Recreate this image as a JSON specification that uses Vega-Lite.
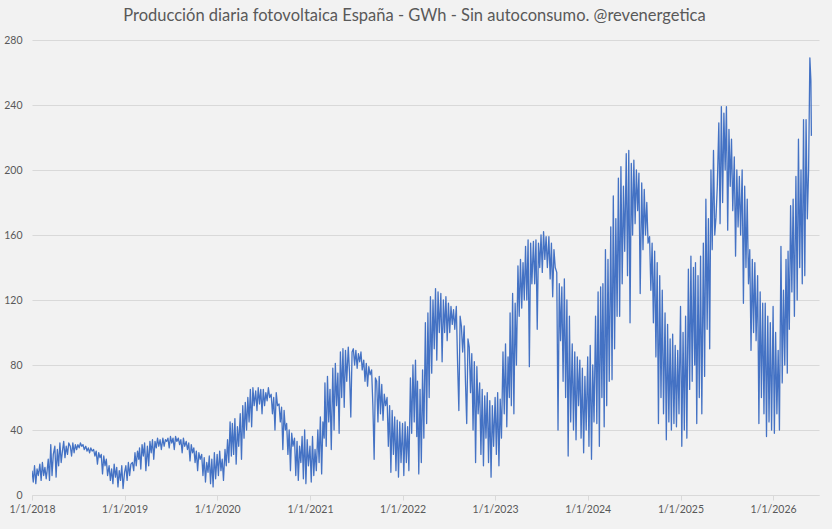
{
  "$schema": "https://vega.github.io/schema/vega-lite/v6.json",
  "width": 787,
  "height": 455,
  "autosize": "none",
  "padding": {"left": 32, "top": 40, "right": 13, "bottom": 34},
  "background": "#f2f2f2",
  "title": {
    "text": "Producción diaria fotovoltaica España - GWh - Sin autoconsumo. @revenergetica",
    "font": "Lato",
    "fontSize": 16.5,
    "fontWeight": "normal",
    "color": "#595959",
    "anchor": "middle",
    "frame": "group",
    "dx": -11,
    "offset": 11
  },
  "config": {
    "view": {"stroke": null},
    "axis": {"labelFont": "Lato", "labelColor": "#595959", "labelFontSize": 10.5, "domain": false, "grid": false}
  },
  "data": {"values": [
{"d":"2018-01-01","v":15},{"d":"2018-01-06","v":8},{"d":"2018-01-11","v":18},{"d":"2018-01-16","v":7},{"d":"2018-01-21","v":16},{"d":"2018-01-26","v":12},
{"d":"2018-02-01","v":19},{"d":"2018-02-06","v":9},{"d":"2018-02-11","v":20},{"d":"2018-02-16","v":12},{"d":"2018-02-21","v":17},{"d":"2018-02-26","v":10},
{"d":"2018-03-01","v":14},{"d":"2018-03-06","v":22},{"d":"2018-03-11","v":9},{"d":"2018-03-16","v":31},{"d":"2018-03-21","v":12},{"d":"2018-03-26","v":25},
{"d":"2018-04-01","v":30},{"d":"2018-04-06","v":11},{"d":"2018-04-11","v":28},{"d":"2018-04-16","v":18},{"d":"2018-04-21","v":32},{"d":"2018-04-26","v":20},
{"d":"2018-05-01","v":27},{"d":"2018-05-06","v":33},{"d":"2018-05-11","v":23},{"d":"2018-05-16","v":30},{"d":"2018-05-21","v":25},{"d":"2018-05-26","v":32},
{"d":"2018-06-01","v":30},{"d":"2018-06-06","v":24},{"d":"2018-06-11","v":32},{"d":"2018-06-16","v":26},{"d":"2018-06-21","v":31},{"d":"2018-06-26","v":28},
{"d":"2018-07-01","v":31},{"d":"2018-07-06","v":29},{"d":"2018-07-11","v":32},{"d":"2018-07-16","v":30},{"d":"2018-07-21","v":31},{"d":"2018-07-26","v":28},
{"d":"2018-08-01","v":30},{"d":"2018-08-06","v":27},{"d":"2018-08-11","v":29},{"d":"2018-08-16","v":26},{"d":"2018-08-21","v":29},{"d":"2018-08-26","v":27},
{"d":"2018-09-01","v":28},{"d":"2018-09-06","v":24},{"d":"2018-09-11","v":27},{"d":"2018-09-16","v":19},{"d":"2018-09-21","v":26},{"d":"2018-09-26","v":23},
{"d":"2018-10-01","v":25},{"d":"2018-10-06","v":13},{"d":"2018-10-11","v":24},{"d":"2018-10-16","v":18},{"d":"2018-10-21","v":22},{"d":"2018-10-26","v":12},
{"d":"2018-11-01","v":18},{"d":"2018-11-06","v":9},{"d":"2018-11-11","v":16},{"d":"2018-11-16","v":7},{"d":"2018-11-21","v":19},{"d":"2018-11-26","v":11},
{"d":"2018-12-01","v":17},{"d":"2018-12-06","v":5},{"d":"2018-12-11","v":15},{"d":"2018-12-16","v":9},{"d":"2018-12-21","v":18},{"d":"2018-12-26","v":4},
{"d":"2019-01-01","v":14},{"d":"2019-01-06","v":18},{"d":"2019-01-11","v":9},{"d":"2019-01-16","v":20},{"d":"2019-01-21","v":12},{"d":"2019-01-26","v":19},
{"d":"2019-02-01","v":20},{"d":"2019-02-06","v":15},{"d":"2019-02-11","v":26},{"d":"2019-02-16","v":18},{"d":"2019-02-21","v":27},{"d":"2019-02-26","v":22},
{"d":"2019-03-01","v":29},{"d":"2019-03-06","v":16},{"d":"2019-03-11","v":31},{"d":"2019-03-16","v":24},{"d":"2019-03-21","v":32},{"d":"2019-03-26","v":15},
{"d":"2019-04-01","v":30},{"d":"2019-04-06","v":18},{"d":"2019-04-11","v":33},{"d":"2019-04-16","v":26},{"d":"2019-04-21","v":34},{"d":"2019-04-26","v":22},
{"d":"2019-05-01","v":33},{"d":"2019-05-06","v":29},{"d":"2019-05-11","v":35},{"d":"2019-05-16","v":30},{"d":"2019-05-21","v":34},{"d":"2019-05-26","v":28},
{"d":"2019-06-01","v":35},{"d":"2019-06-06","v":30},{"d":"2019-06-11","v":34},{"d":"2019-06-16","v":33},{"d":"2019-06-21","v":35},{"d":"2019-06-26","v":29},
{"d":"2019-07-01","v":36},{"d":"2019-07-06","v":32},{"d":"2019-07-11","v":35},{"d":"2019-07-16","v":28},{"d":"2019-07-21","v":36},{"d":"2019-07-26","v":33},
{"d":"2019-08-01","v":35},{"d":"2019-08-06","v":31},{"d":"2019-08-11","v":34},{"d":"2019-08-16","v":26},{"d":"2019-08-21","v":35},{"d":"2019-08-26","v":30},
{"d":"2019-09-01","v":33},{"d":"2019-09-06","v":28},{"d":"2019-09-11","v":32},{"d":"2019-09-16","v":21},{"d":"2019-09-21","v":31},{"d":"2019-09-26","v":26},
{"d":"2019-10-01","v":29},{"d":"2019-10-06","v":20},{"d":"2019-10-11","v":27},{"d":"2019-10-16","v":15},{"d":"2019-10-21","v":26},{"d":"2019-10-26","v":22},
{"d":"2019-11-01","v":25},{"d":"2019-11-06","v":12},{"d":"2019-11-11","v":23},{"d":"2019-11-16","v":8},{"d":"2019-11-21","v":20},{"d":"2019-11-26","v":14},
{"d":"2019-12-01","v":24},{"d":"2019-12-06","v":7},{"d":"2019-12-11","v":22},{"d":"2019-12-16","v":5},{"d":"2019-12-21","v":26},{"d":"2019-12-26","v":10},
{"d":"2020-01-01","v":25},{"d":"2020-01-06","v":12},{"d":"2020-01-11","v":27},{"d":"2020-01-16","v":15},{"d":"2020-01-21","v":22},{"d":"2020-01-26","v":9},
{"d":"2020-02-01","v":28},{"d":"2020-02-06","v":18},{"d":"2020-02-11","v":34},{"d":"2020-02-16","v":20},{"d":"2020-02-21","v":45},{"d":"2020-02-26","v":24},
{"d":"2020-03-01","v":44},{"d":"2020-03-06","v":25},{"d":"2020-03-11","v":47},{"d":"2020-03-16","v":19},{"d":"2020-03-21","v":42},{"d":"2020-03-26","v":30},
{"d":"2020-04-01","v":50},{"d":"2020-04-06","v":22},{"d":"2020-04-11","v":55},{"d":"2020-04-16","v":35},{"d":"2020-04-21","v":57},{"d":"2020-04-26","v":40},
{"d":"2020-05-01","v":60},{"d":"2020-05-06","v":45},{"d":"2020-05-11","v":65},{"d":"2020-05-16","v":42},{"d":"2020-05-21","v":66},{"d":"2020-05-26","v":55},
{"d":"2020-06-01","v":64},{"d":"2020-06-06","v":52},{"d":"2020-06-11","v":66},{"d":"2020-06-16","v":56},{"d":"2020-06-21","v":65},{"d":"2020-06-26","v":50},
{"d":"2020-07-01","v":65},{"d":"2020-07-06","v":55},{"d":"2020-07-11","v":63},{"d":"2020-07-16","v":58},{"d":"2020-07-21","v":66},{"d":"2020-07-26","v":60},
{"d":"2020-08-01","v":62},{"d":"2020-08-06","v":50},{"d":"2020-08-11","v":60},{"d":"2020-08-16","v":40},{"d":"2020-08-21","v":63},{"d":"2020-08-26","v":55},
{"d":"2020-09-01","v":56},{"d":"2020-09-06","v":45},{"d":"2020-09-11","v":54},{"d":"2020-09-16","v":28},{"d":"2020-09-21","v":52},{"d":"2020-09-26","v":40},
{"d":"2020-10-01","v":44},{"d":"2020-10-06","v":25},{"d":"2020-10-11","v":40},{"d":"2020-10-16","v":15},{"d":"2020-10-21","v":38},{"d":"2020-10-26","v":30},
{"d":"2020-11-01","v":35},{"d":"2020-11-06","v":12},{"d":"2020-11-11","v":33},{"d":"2020-11-16","v":9},{"d":"2020-11-21","v":30},{"d":"2020-11-26","v":20},
{"d":"2020-12-01","v":36},{"d":"2020-12-06","v":10},{"d":"2020-12-11","v":40},{"d":"2020-12-16","v":7},{"d":"2020-12-21","v":34},{"d":"2020-12-26","v":18},
{"d":"2021-01-01","v":30},{"d":"2021-01-06","v":8},{"d":"2021-01-11","v":36},{"d":"2021-01-16","v":12},{"d":"2021-01-21","v":28},{"d":"2021-01-26","v":15},
{"d":"2021-02-01","v":40},{"d":"2021-02-06","v":20},{"d":"2021-02-11","v":48},{"d":"2021-02-16","v":13},{"d":"2021-02-21","v":45},{"d":"2021-02-26","v":35},
{"d":"2021-03-01","v":69},{"d":"2021-03-06","v":30},{"d":"2021-03-11","v":73},{"d":"2021-03-16","v":45},{"d":"2021-03-21","v":65},{"d":"2021-03-26","v":28},
{"d":"2021-04-01","v":78},{"d":"2021-04-06","v":40},{"d":"2021-04-11","v":81},{"d":"2021-04-16","v":55},{"d":"2021-04-21","v":75},{"d":"2021-04-26","v":38},
{"d":"2021-05-01","v":88},{"d":"2021-05-06","v":60},{"d":"2021-05-11","v":90},{"d":"2021-05-16","v":54},{"d":"2021-05-21","v":89},{"d":"2021-05-26","v":70},
{"d":"2021-06-01","v":91},{"d":"2021-06-06","v":75},{"d":"2021-06-11","v":48},{"d":"2021-06-16","v":88},{"d":"2021-06-21","v":90},{"d":"2021-06-26","v":80},
{"d":"2021-07-01","v":89},{"d":"2021-07-06","v":78},{"d":"2021-07-11","v":87},{"d":"2021-07-16","v":82},{"d":"2021-07-21","v":88},{"d":"2021-07-26","v":77},
{"d":"2021-08-01","v":83},{"d":"2021-08-06","v":70},{"d":"2021-08-11","v":81},{"d":"2021-08-16","v":67},{"d":"2021-08-21","v":79},{"d":"2021-08-26","v":74},
{"d":"2021-09-01","v":77},{"d":"2021-09-06","v":55},{"d":"2021-09-11","v":22},{"d":"2021-09-16","v":72},{"d":"2021-09-21","v":70},{"d":"2021-09-26","v":45},
{"d":"2021-10-01","v":73},{"d":"2021-10-06","v":50},{"d":"2021-10-11","v":68},{"d":"2021-10-16","v":46},{"d":"2021-10-21","v":62},{"d":"2021-10-26","v":55},
{"d":"2021-11-01","v":60},{"d":"2021-11-06","v":30},{"d":"2021-11-11","v":55},{"d":"2021-11-16","v":14},{"d":"2021-11-21","v":52},{"d":"2021-11-26","v":25},
{"d":"2021-12-01","v":48},{"d":"2021-12-06","v":15},{"d":"2021-12-11","v":46},{"d":"2021-12-16","v":11},{"d":"2021-12-21","v":45},{"d":"2021-12-26","v":20},
{"d":"2022-01-01","v":44},{"d":"2022-01-06","v":12},{"d":"2022-01-11","v":45},{"d":"2022-01-16","v":20},{"d":"2022-01-21","v":42},{"d":"2022-01-26","v":15},
{"d":"2022-02-01","v":72},{"d":"2022-02-06","v":38},{"d":"2022-02-11","v":80},{"d":"2022-02-16","v":45},{"d":"2022-02-21","v":83},{"d":"2022-02-26","v":36},
{"d":"2022-03-01","v":70},{"d":"2022-03-06","v":13},{"d":"2022-03-11","v":65},{"d":"2022-03-16","v":20},{"d":"2022-03-21","v":77},{"d":"2022-03-26","v":35},
{"d":"2022-04-01","v":106},{"d":"2022-04-06","v":44},{"d":"2022-04-11","v":112},{"d":"2022-04-16","v":60},{"d":"2022-04-21","v":122},{"d":"2022-04-26","v":75},
{"d":"2022-05-01","v":120},{"d":"2022-05-06","v":90},{"d":"2022-05-11","v":127},{"d":"2022-05-16","v":83},{"d":"2022-05-21","v":125},{"d":"2022-05-26","v":100},
{"d":"2022-06-01","v":124},{"d":"2022-06-06","v":82},{"d":"2022-06-11","v":120},{"d":"2022-06-16","v":100},{"d":"2022-06-21","v":122},{"d":"2022-06-26","v":95},
{"d":"2022-07-01","v":118},{"d":"2022-07-06","v":100},{"d":"2022-07-11","v":116},{"d":"2022-07-16","v":105},{"d":"2022-07-21","v":114},{"d":"2022-07-26","v":102},
{"d":"2022-08-01","v":116},{"d":"2022-08-06","v":81},{"d":"2022-08-11","v":52},{"d":"2022-08-16","v":110},{"d":"2022-08-21","v":104},{"d":"2022-08-26","v":88},
{"d":"2022-09-01","v":104},{"d":"2022-09-06","v":70},{"d":"2022-09-11","v":44},{"d":"2022-09-16","v":96},{"d":"2022-09-21","v":91},{"d":"2022-09-26","v":63},
{"d":"2022-10-01","v":87},{"d":"2022-10-06","v":40},{"d":"2022-10-11","v":82},{"d":"2022-10-16","v":20},{"d":"2022-10-21","v":79},{"d":"2022-10-26","v":50},
{"d":"2022-11-01","v":69},{"d":"2022-11-06","v":25},{"d":"2022-11-11","v":65},{"d":"2022-11-16","v":18},{"d":"2022-11-21","v":61},{"d":"2022-11-26","v":35},
{"d":"2022-12-01","v":63},{"d":"2022-12-06","v":20},{"d":"2022-12-11","v":58},{"d":"2022-12-16","v":11},{"d":"2022-12-21","v":55},{"d":"2022-12-26","v":30},
{"d":"2023-01-01","v":60},{"d":"2023-01-06","v":25},{"d":"2023-01-11","v":63},{"d":"2023-01-16","v":18},{"d":"2023-01-21","v":59},{"d":"2023-01-26","v":35},
{"d":"2023-02-01","v":88},{"d":"2023-02-06","v":50},{"d":"2023-02-11","v":93},{"d":"2023-02-16","v":42},{"d":"2023-02-21","v":85},{"d":"2023-02-26","v":60},
{"d":"2023-03-01","v":112},{"d":"2023-03-06","v":55},{"d":"2023-03-11","v":124},{"d":"2023-03-16","v":50},{"d":"2023-03-21","v":118},{"d":"2023-03-26","v":80},
{"d":"2023-04-01","v":141},{"d":"2023-04-06","v":110},{"d":"2023-04-11","v":145},{"d":"2023-04-16","v":115},{"d":"2023-04-21","v":143},{"d":"2023-04-26","v":120},
{"d":"2023-05-01","v":153},{"d":"2023-05-06","v":120},{"d":"2023-05-11","v":157},{"d":"2023-05-16","v":79},{"d":"2023-05-21","v":155},{"d":"2023-05-26","v":130},
{"d":"2023-06-01","v":156},{"d":"2023-06-06","v":130},{"d":"2023-06-11","v":157},{"d":"2023-06-16","v":102},{"d":"2023-06-21","v":155},{"d":"2023-06-26","v":140},
{"d":"2023-07-01","v":160},{"d":"2023-07-06","v":137},{"d":"2023-07-11","v":162},{"d":"2023-07-16","v":145},{"d":"2023-07-21","v":159},{"d":"2023-07-26","v":140},
{"d":"2023-08-01","v":159},{"d":"2023-08-06","v":133},{"d":"2023-08-11","v":155},{"d":"2023-08-16","v":122},{"d":"2023-08-21","v":151},{"d":"2023-08-26","v":140},
{"d":"2023-09-01","v":137},{"d":"2023-09-06","v":40},{"d":"2023-09-11","v":130},{"d":"2023-09-16","v":95},{"d":"2023-09-21","v":128},{"d":"2023-09-26","v":70},
{"d":"2023-10-01","v":133},{"d":"2023-10-06","v":60},{"d":"2023-10-11","v":120},{"d":"2023-10-16","v":24},{"d":"2023-10-21","v":110},{"d":"2023-10-26","v":45},
{"d":"2023-11-01","v":93},{"d":"2023-11-06","v":40},{"d":"2023-11-11","v":88},{"d":"2023-11-16","v":34},{"d":"2023-11-21","v":85},{"d":"2023-11-26","v":55},
{"d":"2023-12-01","v":83},{"d":"2023-12-06","v":35},{"d":"2023-12-11","v":78},{"d":"2023-12-16","v":26},{"d":"2023-12-21","v":73},{"d":"2023-12-26","v":40},
{"d":"2024-01-01","v":85},{"d":"2024-01-06","v":30},{"d":"2024-01-11","v":92},{"d":"2024-01-16","v":22},{"d":"2024-01-21","v":80},{"d":"2024-01-26","v":45},
{"d":"2024-02-01","v":110},{"d":"2024-02-06","v":44},{"d":"2024-02-11","v":125},{"d":"2024-02-16","v":30},{"d":"2024-02-21","v":128},{"d":"2024-02-26","v":60},
{"d":"2024-03-01","v":130},{"d":"2024-03-06","v":42},{"d":"2024-03-11","v":151},{"d":"2024-03-16","v":55},{"d":"2024-03-21","v":145},{"d":"2024-03-26","v":70},
{"d":"2024-04-01","v":165},{"d":"2024-04-06","v":71},{"d":"2024-04-11","v":184},{"d":"2024-04-16","v":90},{"d":"2024-04-21","v":170},{"d":"2024-04-26","v":110},
{"d":"2024-05-01","v":195},{"d":"2024-05-06","v":110},{"d":"2024-05-11","v":202},{"d":"2024-05-16","v":130},{"d":"2024-05-21","v":190},{"d":"2024-05-26","v":150},
{"d":"2024-06-01","v":210},{"d":"2024-06-06","v":135},{"d":"2024-06-11","v":212},{"d":"2024-06-16","v":106},{"d":"2024-06-21","v":204},{"d":"2024-06-26","v":160},
{"d":"2024-07-01","v":206},{"d":"2024-07-06","v":167},{"d":"2024-07-11","v":200},{"d":"2024-07-16","v":175},{"d":"2024-07-21","v":198},{"d":"2024-07-26","v":124},
{"d":"2024-08-01","v":192},{"d":"2024-08-06","v":151},{"d":"2024-08-11","v":188},{"d":"2024-08-16","v":160},{"d":"2024-08-21","v":180},{"d":"2024-08-26","v":155},
{"d":"2024-09-01","v":159},{"d":"2024-09-06","v":126},{"d":"2024-09-11","v":155},{"d":"2024-09-16","v":106},{"d":"2024-09-21","v":150},{"d":"2024-09-26","v":85},
{"d":"2024-10-01","v":143},{"d":"2024-10-06","v":44},{"d":"2024-10-11","v":135},{"d":"2024-10-16","v":60},{"d":"2024-10-21","v":126},{"d":"2024-10-26","v":50},
{"d":"2024-11-01","v":112},{"d":"2024-11-06","v":34},{"d":"2024-11-11","v":105},{"d":"2024-11-16","v":45},{"d":"2024-11-21","v":96},{"d":"2024-11-26","v":40},
{"d":"2024-12-01","v":99},{"d":"2024-12-06","v":44},{"d":"2024-12-11","v":92},{"d":"2024-12-16","v":42},{"d":"2024-12-21","v":89},{"d":"2024-12-26","v":50},
{"d":"2025-01-01","v":116},{"d":"2025-01-06","v":30},{"d":"2025-01-11","v":100},{"d":"2025-01-16","v":40},{"d":"2025-01-21","v":110},{"d":"2025-01-26","v":35},
{"d":"2025-02-01","v":139},{"d":"2025-02-06","v":65},{"d":"2025-02-11","v":147},{"d":"2025-02-16","v":70},{"d":"2025-02-21","v":140},{"d":"2025-02-26","v":80},
{"d":"2025-03-01","v":143},{"d":"2025-03-06","v":44},{"d":"2025-03-11","v":135},{"d":"2025-03-16","v":60},{"d":"2025-03-21","v":147},{"d":"2025-03-26","v":50},
{"d":"2025-04-01","v":155},{"d":"2025-04-06","v":73},{"d":"2025-04-11","v":182},{"d":"2025-04-16","v":102},{"d":"2025-04-21","v":170},{"d":"2025-04-26","v":90},
{"d":"2025-05-01","v":200},{"d":"2025-05-06","v":151},{"d":"2025-05-11","v":212},{"d":"2025-05-16","v":160},{"d":"2025-05-21","v":171},{"d":"2025-05-26","v":190},
{"d":"2025-06-01","v":229},{"d":"2025-06-06","v":167},{"d":"2025-06-11","v":239},{"d":"2025-06-16","v":180},{"d":"2025-06-21","v":235},{"d":"2025-06-26","v":200},
{"d":"2025-07-01","v":239},{"d":"2025-07-06","v":163},{"d":"2025-07-11","v":225},{"d":"2025-07-16","v":190},{"d":"2025-07-21","v":219},{"d":"2025-07-26","v":175},
{"d":"2025-08-01","v":208},{"d":"2025-08-06","v":147},{"d":"2025-08-11","v":200},{"d":"2025-08-16","v":165},{"d":"2025-08-21","v":196},{"d":"2025-08-26","v":160},
{"d":"2025-09-01","v":200},{"d":"2025-09-06","v":118},{"d":"2025-09-11","v":190},{"d":"2025-09-16","v":140},{"d":"2025-09-21","v":182},{"d":"2025-09-26","v":130},
{"d":"2025-10-01","v":151},{"d":"2025-10-06","v":89},{"d":"2025-10-11","v":145},{"d":"2025-10-16","v":100},{"d":"2025-10-21","v":143},{"d":"2025-10-26","v":95},
{"d":"2025-11-01","v":135},{"d":"2025-11-06","v":44},{"d":"2025-11-11","v":125},{"d":"2025-11-16","v":60},{"d":"2025-11-21","v":118},{"d":"2025-11-26","v":50},
{"d":"2025-12-01","v":118},{"d":"2025-12-06","v":36},{"d":"2025-12-11","v":110},{"d":"2025-12-16","v":45},{"d":"2025-12-21","v":106},{"d":"2025-12-26","v":40},
{"d":"2026-01-01","v":116},{"d":"2026-01-06","v":38},{"d":"2026-01-11","v":100},{"d":"2026-01-16","v":50},{"d":"2026-01-21","v":89},{"d":"2026-01-26","v":40},
{"d":"2026-02-01","v":153},{"d":"2026-02-06","v":69},{"d":"2026-02-11","v":126},{"d":"2026-02-16","v":80},{"d":"2026-02-21","v":145},{"d":"2026-02-26","v":75},
{"d":"2026-03-01","v":150},{"d":"2026-03-06","v":102},{"d":"2026-03-11","v":178},{"d":"2026-03-16","v":125},{"d":"2026-03-21","v":182},{"d":"2026-03-26","v":110},
{"d":"2026-04-01","v":196},{"d":"2026-04-06","v":120},{"d":"2026-04-11","v":219},{"d":"2026-04-16","v":140},{"d":"2026-04-21","v":200},{"d":"2026-04-26","v":130},
{"d":"2026-05-01","v":231},{"d":"2026-05-06","v":135},{"d":"2026-05-11","v":231},{"d":"2026-05-16","v":170},{"d":"2026-05-21","v":200},{"d":"2026-05-26","v":269},
{"d":"2026-05-30","v":255},{"d":"2026-06-01","v":221}
  ]},
  "mark": {"type": "line", "color": "#4472c4", "strokeWidth": 1.3, "strokeJoin": "round", "clip": true},
  "encoding": {
    "x": {
      "field": "d", "type": "temporal",
      "scale": {"domain": ["2018-01-01T00:00:00", "2026-07-01T00:00:00"]},
      "axis": {
        "title": null,
        "values": [{"year": 2018, "month": 1, "date": 1}, {"year": 2019, "month": 1, "date": 1}, {"year": 2020, "month": 1, "date": 1}, {"year": 2021, "month": 1, "date": 1}, {"year": 2022, "month": 1, "date": 1}, {"year": 2023, "month": 1, "date": 1}, {"year": 2024, "month": 1, "date": 1}, {"year": 2025, "month": 1, "date": 1}, {"year": 2026, "month": 1, "date": 1}],
        "format": "%-m/%-d/%Y",
        "domain": true, "domainColor": "#d9d9d9", "domainWidth": 1,
        "ticks": true, "tickColor": "#d9d9d9", "tickSize": 5,
        "labelPadding": 4, "labelFlush": false
      }
    },
    "y": {
      "field": "v", "type": "quantitative",
      "scale": {"domain": [0, 280], "nice": false},
      "axis": {
        "title": null,
        "values": [0, 40, 80, 120, 160, 200, 240, 280],
        "grid": true, "gridColor": "#d9d9d9", "gridWidth": 1,
        "ticks": false, "labelPadding": 10
      }
    }
  }
}
